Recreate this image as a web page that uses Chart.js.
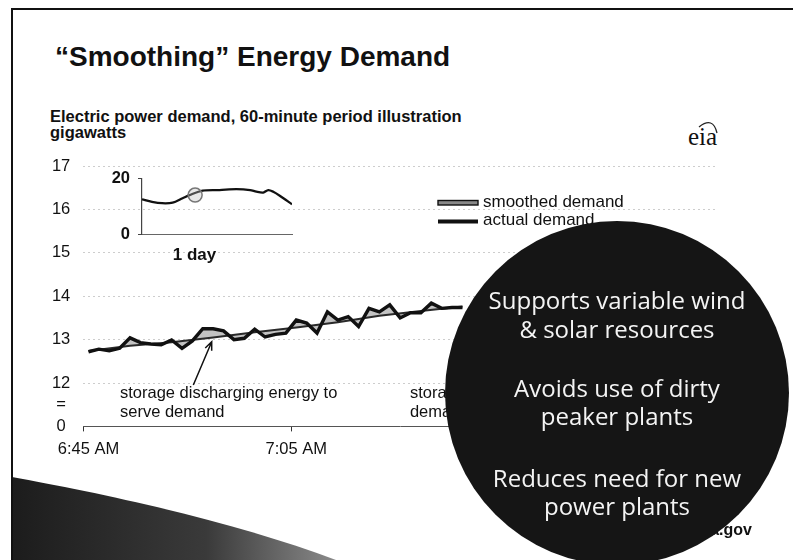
<!DOCTYPE html>
<html>
<head>
<meta charset="utf-8">
<title>"Smoothing" Energy Demand</title>
<script src="https://cdn.jsdelivr.net/npm/chart.js@4.4.1/dist/chart.umd.min.js"></script>
<style>
  html, body { margin: 0; padding: 0; background: #fff; }
  #slide { position: relative; width: 793px; height: 560px; overflow: hidden; background: #fff;
           font-family: "Liberation Sans", Arial, sans-serif; color: #111; }
  .abs { position: absolute; white-space: nowrap; line-height: 1; }
  #frameTop { left: 11px; top: 8px; width: 782px; height: 2px; background: #111; }
  #frameLeft { left: 11px; top: 8px; width: 2px; height: 552px; background: #111; }
  #title { left: 55px; top: 43.3px; font-size: 28px; font-weight: bold; }
  #subtitle { left: 50px; top: 107.5px; font-size: 16.5px; font-weight: bold; }
  #units { left: 50px; top: 124px; font-size: 16.5px; font-weight: bold; }
  #eia { left: 688px; top: 124px; font-family: "Liberation Serif", "DejaVu Serif", serif; font-size: 25px; }
  #site { right: 41px; top: 521.5px; font-size: 16px; font-weight: bold; z-index: 4; }
  #deco { position: absolute; left: 0; top: 0; z-index: 0; }
  #mainChart { position: absolute; left: 0; top: 0; z-index: 2; }
  #dayChart { position: absolute; left: 90px; top: 160px; z-index: 3; }
  #bubble { position: absolute; left: 445px; top: 221px; width: 344px; height: 344px; border-radius: 50%;
            background: #151515; z-index: 5; }
  .point { position: absolute; left: 445px; width: 344px; text-align: center; z-index: 6;
           font-family: "Open Sans", "Noto Sans", sans-serif; font-size: 24px; line-height: 28.5px; color: #f4f4f4; }
</style>
</head>
<body>
<div id="slide">
  <svg id="deco" width="793" height="560">
    <defs>
      <linearGradient id="wave" x1="0" y1="0" x2="1" y2="0">
        <stop offset="0" stop-color="#1c1c1c"/>
        <stop offset="0.6" stop-color="#3a3a3a"/>
        <stop offset="1" stop-color="#8a8a8a"/>
      </linearGradient>
    </defs>
    <path d="M12 477 C 95 492, 230 520, 336 560 L 12 560 Z" fill="url(#wave)"/>
    <path d="M699 127 Q 713 116 717 133" fill="none" stroke="#222" stroke-width="1.3"/>
  </svg>
  <div class="abs" id="frameTop"></div>
  <div class="abs" id="frameLeft"></div>
  <div class="abs" id="title">“Smoothing” Energy Demand</div>
  <div class="abs" id="subtitle">Electric power demand, 60-minute period illustration</div>
  <div class="abs" id="units">gigawatts</div>
  <div class="abs" id="eia">eia</div>
  <div class="abs" id="site">www.eia.gov</div>
  <canvas id="mainChart" width="793" height="560"></canvas>
  <canvas id="dayChart" width="220" height="118"></canvas>
  <div id="bubble"></div>
  <div class="point" style="top:286.4px">Supports variable wind<br>&amp; solar resources</div>
  <div class="point" style="top:373.7px">Avoids use of dirty<br>peaker plants</div>
  <div class="point" style="top:463.7px">Reduces need for new<br>power plants</div>
</div>

<script>
// minute-by-minute categories, 6:45 AM to 7:45 AM
const startHour = 6, startMinute = 45, minuteCount = 61;
const timeLabels = [];
for (let m = 0; m < minuteCount; m++) {
    const total = startHour * 60 + startMinute + m;
    timeLabels.push(Math.floor(total / 60) + ':' + String(total % 60).padStart(2, '0') + ' AM');
}

// actual demand, one value per minute (the rest is hidden behind the circle)
const actualDemand = [12.72, 12.78, 12.74, 12.80, 13.04, 12.93, 12.90, 12.88, 12.99, 12.80,
                      12.97, 13.25, 13.25, 13.20, 13.00, 13.03, 13.24, 13.06, 13.12, 13.15,
                      13.45, 13.38, 13.15, 13.64, 13.45, 13.53, 13.30, 13.72, 13.64, 13.80,
                      13.50, 13.62, 13.62, 13.84, 13.72, 13.74, 13.74];

// smoothed demand, read every few minutes
const smoothedTimes = ['6:45 AM', '6:49 AM', '6:53 AM', '6:57 AM', '7:01 AM', '7:05 AM', '7:09 AM', '7:13 AM', '7:17 AM', '7:21 AM'];
const smoothedDemand = [12.74, 12.86, 12.94, 13.05, 13.17, 13.28, 13.40, 13.55, 13.66, 13.76];

// y axis is broken: 11 is shown as "0", 11.5 as the break mark
const yTickValues = [11, 11.5, 12, 13, 14, 15, 16, 17];
const yTickLabels = ['0', '=', '12', '13', '14', '15', '16', '17'];

// inset: one day of demand
const dayHours = [0, 1.6, 3.2, 4.9, 6.5, 7.6, 9.7, 12.4, 15.1, 17.3, 18.3, 19.4, 20.2, 21.0, 22.1, 24];
const dayDemand = [12.5, 11.6, 11.1, 11.3, 12.9, 14.0, 15.6, 15.8, 16.1, 15.8, 15.2, 14.9, 15.8, 15.2, 13.7, 10.7];
const dayHighlight = { x: 8.5, y: 14.0 };

const notes = [
    { at: [3.03, 11.648], lines: ['storage discharging energy to', 'serve demand'] },
    { at: [30.94, 11.648], lines: ['storage charging energy when', 'demand is low'] }
];
const arrow = { from: [10.09, 11.954], to: [11.86, 12.952] };

const ink = '#111';
const fillGray = '#c3c3c3';
const font = '"Liberation Sans", Arial, sans-serif';

const notesPlugin = {
    id: 'notes',
    afterDatasetsDraw(chart) {
        const { ctx, chartArea } = chart;
        const x = chart.scales.x, y = chart.scales.y;
        ctx.save();
        ctx.fillStyle = ink;
        ctx.font = '16.5px ' + font;
        ctx.textBaseline = 'alphabetic';
        notes.forEach(n => {
            const px = x.getPixelForValue(n.at[0]), py = y.getPixelForValue(n.at[1]);
            n.lines.forEach((t, k) => ctx.fillText(t, px, py + k * 18.4));
        });

        // arrow to the discharging area
        const x1 = x.getPixelForValue(arrow.from[0]), y1 = y.getPixelForValue(arrow.from[1]);
        const x2 = x.getPixelForValue(arrow.to[0]), y2 = y.getPixelForValue(arrow.to[1]);
        const ang = Math.atan2(y2 - y1, x2 - x1);
        ctx.strokeStyle = ink;
        ctx.lineWidth = 1.5;
        ctx.beginPath();
        ctx.moveTo(x1, y1);
        ctx.lineTo(x2, y2);
        ctx.moveTo(x2 - 9 * Math.cos(ang - 0.4), y2 - 9 * Math.sin(ang - 0.4));
        ctx.lineTo(x2, y2);
        ctx.lineTo(x2 - 9 * Math.cos(ang + 0.4), y2 - 9 * Math.sin(ang + 0.4));
        ctx.stroke();

        // legend
        const lx = chartArea.left + 354.7;
        ctx.font = '17px ' + font;
        ctx.fillStyle = '#888';
        ctx.fillRect(lx, chartArea.top + 34.5, 40, 4.5);
        ctx.lineWidth = 1.4;
        ctx.strokeRect(lx, chartArea.top + 34.5, 40, 4.5);
        ctx.fillStyle = ink;
        ctx.fillRect(lx, chartArea.top + 53.5, 40, 4);
        ctx.fillText(chart.data.datasets[1].label, lx + 45, chartArea.top + 41);
        ctx.fillText(chart.data.datasets[0].label, lx + 45, chartArea.top + 59);
        ctx.restore();
    }
};

new Chart(document.getElementById('mainChart'), {
    type: 'line',
    data: {
        labels: timeLabels,
        datasets: [
            {
                label: 'actual demand',
                data: actualDemand,
                borderColor: ink,
                borderWidth: 3.4,
                pointRadius: 0,
                tension: 0,
                fill: { target: 1, above: fillGray, below: fillGray }
            },
            {
                label: 'smoothed demand',
                data: smoothedTimes.map((t, i) => ({ x: t, y: smoothedDemand[i] })),
                borderColor: '#2a2a2a',
                borderWidth: 2,
                pointRadius: 0,
                tension: 0,
                fill: false
            }
        ]
    },
    options: {
        responsive: false,
        animation: false,
        layout: { padding: { left: 0, top: 166, right: 76, bottom: 97.6 } },
        plugins: {
            legend: { display: false },
            tooltip: { enabled: false },
            filler: { drawTime: 'beforeDatasetsDraw' }
        },
        scales: {
            x: {
                type: 'category',
                offset: true,
                afterFit: s => { s.height = 36; },
                grid: {
                    offset: true,
                    drawOnChartArea: false,
                    tickLength: 5,
                    color: c => (c.index !== undefined && c.index % 20 === 0) ? '#333' : 'rgba(0,0,0,0)'
                },
                border: { display: true, color: '#555', width: 1 },
                ticks: {
                    autoSkip: false,
                    maxRotation: 0,
                    minRotation: 0,
                    padding: 8,
                    color: ink,
                    font: { family: font, size: 16.5 },
                    callback: function (v, i) { return i % 20 === 0 ? this.getLabelForValue(v) : ''; }
                }
            },
            y: {
                min: 11,
                max: 17,
                afterFit: s => { s.width = 83.3; },
                afterBuildTicks: s => { s.ticks = yTickValues.map(v => ({ value: v })); },
                grid: {
                    drawTicks: false,
                    color: c => (c.tick && c.tick.value >= 12) ? '#cdcdcd' : 'rgba(0,0,0,0)'
                },
                border: { display: false, dash: [2, 3] },
                ticks: {
                    autoSkip: false,
                    crossAlign: 'center',
                    padding: 13,
                    color: ink,
                    font: { family: font, size: 16.5 },
                    callback: (v, i) => yTickLabels[i]
                }
            }
        }
    },
    plugins: [notesPlugin]
});

new Chart(document.getElementById('dayChart'), {
    type: 'line',
    data: {
        datasets: [
            {
                data: [dayHighlight],
                showLine: false,
                pointRadius: 7,
                pointBorderWidth: 1.5,
                pointBorderColor: '#777',
                pointBackgroundColor: 'rgba(190,190,190,0.35)'
            },
            {
                data: dayHours.map((h, i) => ({ x: h, y: dayDemand[i] })),
                borderColor: ink,
                borderWidth: 2.3,
                pointRadius: 0,
                tension: 0.3
            }
        ]
    },
    options: {
        responsive: false,
        animation: false,
        layout: { padding: { left: 0, top: 18.3, right: 18, bottom: 5.7 } },
        plugins: { legend: { display: false }, tooltip: { enabled: false } },
        scales: {
            x: {
                type: 'linear',
                min: 0,
                max: 24,
                afterFit: s => { s.height = 38; },
                afterBuildTicks: s => { s.ticks = [{ value: 8.4 }]; },
                grid: { display: false },
                border: { display: true, color: '#666', width: 1 },
                ticks: {
                    padding: 3,
                    maxRotation: 0,
                    color: ink,
                    font: { family: font, size: 17, weight: 'bold' },
                    callback: () => '1 day'
                }
            },
            y: {
                min: 0,
                max: 20,
                afterFit: s => { s.width = 52; },
                afterBuildTicks: s => { s.ticks = [{ value: 0 }, { value: 20 }]; },
                grid: { drawOnChartArea: false, tickLength: 4, color: '#444' },
                border: { display: true, color: '#444', width: 1.2 },
                ticks: {
                    padding: 8,
                    color: ink,
                    font: { family: font, size: 16.5, weight: 'bold' }
                }
            }
        }
    }
});
</script>
</body>
</html>
